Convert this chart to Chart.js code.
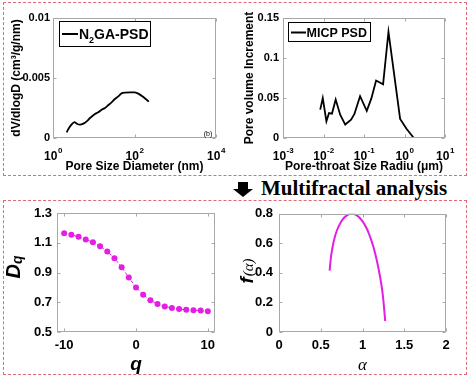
<!DOCTYPE html>
<html><head><meta charset="utf-8">
<script src="https://cdn.jsdelivr.net/npm/chart.js@4.4.1/dist/chart.umd.min.js"></script>
<style>
html,body{margin:0;padding:0;background:#fff;}
#wrap{position:relative;width:474px;height:381px;overflow:hidden;background:#fff;}
canvas{position:absolute;}
.box{position:absolute;border:1px dashed #e06a78;box-sizing:border-box;}
#band{position:absolute;left:261px;top:177px;font:bold 21px 'Liberation Serif','Times New Roman',serif;line-height:22px;white-space:nowrap;color:#000;}
</style></head>
<body><div id="wrap">
<div class="box" style="left:3px;top:2px;width:464px;height:174px"></div>
<div class="box" style="left:3px;top:200px;width:464px;height:175px"></div>
<svg style="position:absolute;left:233px;top:182px" width="21" height="16"><polygon points="5,0 15,0 15,7 20,7 10,15 0,7 5,7" fill="#000"/></svg>
<div id="band">Multifractal analysis</div>
<canvas id="c1" width="237" height="170" style="left:0;top:5px"></canvas>
<canvas id="c2" width="237" height="170" style="left:237px;top:5px"></canvas>
<canvas id="c3" width="237" height="181" style="left:0;top:200px"></canvas>
<canvas id="c4" width="237" height="181" style="left:237px;top:200px"></canvas>
</div>
<script>
// ---------------- data ----------------
const psdDiameter = [2.16, 2.38, 2.9, 3.34, 3.95, 4.6, 5.55, 6.7, 8.1, 10.7, 12.9, 15.6, 18.9, 22.8, 27.5, 33, 40, 48, 58.5, 77.6, 102, 124, 165, 225];
const psdDvdlogd = [0.00047, 0.00075, 0.00115, 0.00133, 0.00117, 0.00111, 0.0012, 0.00139, 0.00167, 0.002, 0.00214, 0.00236, 0.0025, 0.00275, 0.00297, 0.00325, 0.00347, 0.00372, 0.00378, 0.0038, 0.0038, 0.0037, 0.00342, 0.00303];
const psdXTicks = [1, 100, 10000];
const psdXTickBase = ['10', '10', '10'];
const psdXTickExp = ['0', '2', '4'];
const psdYTicks = [0, 0.005, 0.01];
const psdYTickLabels = ['0', '0.005', '0.01'];

const micpRadius = [0.0083, 0.0096, 0.0118, 0.0137, 0.0162, 0.020, 0.0258, 0.0344, 0.048, 0.058, 0.080, 0.117, 0.152, 0.199, 0.296, 0.402, 0.78, 1.12, 1.70, 2.39];
const micpIncrement = [0.0355, 0.0500, 0.0209, 0.0312, 0.0305, 0.0480, 0.0292, 0.0168, 0.0230, 0.0300, 0.0522, 0.0340, 0.0495, 0.0718, 0.0670, 0.1325, 0.0238, 0.0115, 0, 0];
const micpXTicks = [0.001, 0.01, 0.1, 1, 10];
const micpXTickBase = ['10', '10', '10', '10', '10'];
const micpXTickExp = ['-3', '-2', '-1', '0', '1'];
const micpYTicks = [0, 0.05, 0.1, 0.15];
const micpYTickLabels = ['0', '0.05', '0.1', '0.15'];

const qValues = [-10, -9, -8, -7, -6, -5, -4, -3, -2, -1, 0, 1, 2, 3, 4, 5, 6, 7, 8, 9, 10];
const dqValues = [1.164, 1.153, 1.140, 1.122, 1.103, 1.077, 1.042, 0.996, 0.936, 0.866, 0.800, 0.751, 0.713, 0.689, 0.672, 0.661, 0.655, 0.649, 0.647, 0.644, 0.639];
const qTicks = [-10, 0, 10];
const qTickLabels = ['-10', '0', '10'];
const dqTicks = [0.5, 0.7, 0.9, 1.1, 1.3];
const dqTickLabels = ['0.5', '0.7', '0.9', '1.1', '1.3'];

const alphaValues = [0.606, 0.625, 0.653, 0.693, 0.753, 0.813, 0.870, 0.932, 0.992, 1.052, 1.092, 1.131, 1.171, 1.211, 1.239, 1.259, 1.272];
const fAlphaValues = [0.415, 0.518, 0.608, 0.687, 0.755, 0.789, 0.800, 0.789, 0.755, 0.699, 0.642, 0.575, 0.485, 0.372, 0.270, 0.158, 0.074];
const alphaTicks = [0, 0.5, 1, 1.5, 2];
const alphaTickLabels = ['0', '0.5', '1', '1.5', '2'];
const fTicks = [0, 0.2, 0.4, 0.6, 0.8];
const fTickLabels = ['0', '0.2', '0.4', '0.6', '0.8'];

// ---------------- helpers ----------------
const SANS = "'Liberation Sans', Arial, Helvetica, sans-serif";
const SERIF = "'Liberation Serif', 'Times New Roman', serif";
const MAGENTA = '#e21fe2';
Chart.defaults.font.family = SANS;
Chart.defaults.font.weight = 'bold';
Chart.defaults.color = '#000';
Chart.defaults.animation = false;

const fixedW = w => s => { s.width = w; };
const fixedH = h => s => { s.height = h; };
const setTicks = vals => s => { s.ticks = vals.map(v => ({ value: v })); };
const pts = (xs, ys) => xs.map((x, i) => ({ x: x, y: ys[i] }));

const framePlugin = {
  id: 'frame',
  afterDatasetsDraw(chart) {
    const { ctx, chartArea: a, scales } = chart;
    const l = Math.round(a.left) + 0.5, t = Math.round(a.top) + 0.5;
    const r = Math.round(a.right) - 0.5, b = Math.round(a.bottom) - 0.5;
    ctx.save();
    ctx.strokeStyle = '#a8a8a8';
    ctx.lineWidth = 1;
    ctx.strokeRect(l, t, r - l, b - t);
    const L = 3;
    ctx.beginPath();
    scales.x.ticks.forEach(tk => {
      const p = Math.round(scales.x.getPixelForValue(tk.value)) + 0.5;
      ctx.moveTo(p, b); ctx.lineTo(p, b - L);
      ctx.moveTo(p, t); ctx.lineTo(p, t + L);
    });
    scales.y.ticks.forEach(tk => {
      const p = Math.round(scales.y.getPixelForValue(tk.value)) + 0.5;
      ctx.moveTo(l, p); ctx.lineTo(l + L, p);
      ctx.moveTo(r, p); ctx.lineTo(r - L, p);
    });
    ctx.stroke();
    ctx.restore();
  }
};

// power-of-ten tick labels ("10" with a raised exponent) placed through the x scale
const powerTicks = (bases, exps) => ({
  id: 'powerTicks',
  afterDraw(chart) {
    const { ctx, chartArea: a } = chart;
    const xs = chart.scales.x;
    ctx.save();
    ctx.fillStyle = '#000'; ctx.textBaseline = 'alphabetic'; ctx.textAlign = 'left';
    xs.ticks.forEach((tk, i) => {
      const p = xs.getPixelForValue(tk.value);
      ctx.font = 'bold 12px ' + SANS; const wb = ctx.measureText(bases[i]).width;
      ctx.font = 'bold 8px ' + SANS; const we = ctx.measureText(exps[i]).width;
      const x0 = p - (wb + we) / 2;
      ctx.font = 'bold 12px ' + SANS; ctx.fillText(bases[i], x0, a.bottom + 22);
      ctx.font = 'bold 8px ' + SANS; ctx.fillText(exps[i], x0 + wb + 0.5, a.bottom + 15);
    });
    ctx.restore();
  }
});

function axisOpts(o) {
  return {
    type: o.type || 'linear',
    min: o.min, max: o.max,
    afterBuildTicks: setTicks(o.ticks),
    afterFit: o.w !== undefined ? fixedW(o.w) : fixedH(o.h),
    grid: { display: false, drawTicks: false },
    border: { display: false },
    ticks: {
      display: o.labels !== null,
      padding: o.pad, autoSkip: false, maxRotation: 0,
      font: { size: o.fs, weight: 'bold' },
      callback: (v, i) => (o.labels ? o.labels[i] : '')
    },
    title: o.title ? Object.assign({ display: true }, o.title) : { display: false }
  };
}

function baseOptions(pad, x, y) {
  return {
    responsive: false, animation: false, devicePixelRatio: 1,
    layout: { padding: pad },
    plugins: { legend: { display: false }, tooltip: { enabled: false } },
    scales: { x: x, y: y }
  };
}

// ---------------- chart 1: N2GA-PSD ----------------
new Chart(document.getElementById('c1'), {
  type: 'line',
  data: { datasets: [{ label: 'N\u2082GA-PSD', data: pts(psdDiameter, psdDvdlogd), borderColor: '#000', borderWidth: 1.8, pointRadius: 0, tension: 0.2 }] },
  options: baseOptions({ left: 0, right: 21, top: 13, bottom: 0 },
    axisOpts({ type: 'logarithmic', min: 1, max: 10000, ticks: psdXTicks, labels: null, h: 37, pad: 9, fs: 12,
      title: { text: 'Pore Size Diameter (nm)', font: { size: 12, weight: 'bold' }, padding: { top: 0, bottom: 1 } } }),
    axisOpts({ min: 0, max: 0.01, ticks: psdYTicks, labels: psdYTickLabels, w: 53, pad: 3, fs: 11,
      title: { text: 'dV/dlogD (cm\u00B3/g/nm)', font: { size: 12, weight: 'bold' }, padding: { top: 9, bottom: 0 } } })),
  plugins: [framePlugin, powerTicks(psdXTickBase, psdXTickExp), {
    id: 'legend1',
    afterDraw(chart) {
      const ctx = chart.ctx;
      ctx.save();
      ctx.fillStyle = '#fff'; ctx.fillRect(59.5, 16.5, 91, 25);
      ctx.strokeStyle = '#000'; ctx.lineWidth = 1; ctx.strokeRect(59.5, 16.5, 91, 25);
      ctx.lineWidth = 2; ctx.beginPath(); ctx.moveTo(62, 29); ctx.lineTo(78, 29); ctx.stroke();
      ctx.fillStyle = '#000'; ctx.textBaseline = 'alphabetic'; ctx.textAlign = 'left';
      let x = 79;
      ctx.font = 'bold 14px ' + SANS; ctx.fillText('N', x, 34); x += ctx.measureText('N').width;
      ctx.font = 'bold 9px ' + SANS; ctx.fillText('2', x, 38); x += ctx.measureText('2').width;
      ctx.font = 'bold 14px ' + SANS; ctx.fillText('GA-PSD', x, 34);
      ctx.font = 'normal 7px ' + SANS; ctx.textAlign = 'center'; ctx.textBaseline = 'middle';
      ctx.fillText('(b)', 208, 129);
      ctx.restore();
    }
  }]
});

// ---------------- chart 2: MICP PSD ----------------
new Chart(document.getElementById('c2'), {
  type: 'line',
  data: { datasets: [{ label: 'MICP PSD', data: pts(micpRadius, micpIncrement), borderColor: '#000', borderWidth: 1.8, pointRadius: 0, tension: 0 }] },
  options: baseOptions({ left: 0, right: 29, top: 13, bottom: 0 },
    axisOpts({ type: 'logarithmic', min: 0.001, max: 10, ticks: micpXTicks, labels: null, h: 37, pad: 9, fs: 12,
      title: { text: 'Pore-throat Size Radiu (\u03BCm)', font: { size: 12, weight: 'bold' }, padding: { top: 0, bottom: 1 } } }),
    axisOpts({ min: 0, max: 0.15, ticks: micpYTicks, labels: micpYTickLabels, w: 46, pad: 4, fs: 11,
      title: { text: 'Pore volume Increment', font: { size: 12, weight: 'bold' }, padding: { top: 5, bottom: 0 } } })),
  plugins: [framePlugin, powerTicks(micpXTickBase, micpXTickExp), {
    id: 'legend2',
    afterDraw(chart) {
      const ctx = chart.ctx;
      ctx.save();
      ctx.fillStyle = '#fff'; ctx.fillRect(51.5, 17.5, 82, 19);
      ctx.strokeStyle = '#000'; ctx.lineWidth = 1; ctx.strokeRect(51.5, 17.5, 82, 19);
      ctx.lineWidth = 2; ctx.beginPath(); ctx.moveTo(54, 27.5); ctx.lineTo(69, 27.5); ctx.stroke();
      ctx.fillStyle = '#000'; ctx.textBaseline = 'alphabetic'; ctx.textAlign = 'left';
      ctx.font = 'bold 12.5px ' + SANS; ctx.fillText(chart.data.datasets[0].label, 69.5, 32);
      ctx.restore();
    }
  }]
});

// ---------------- chart 3: Dq vs q ----------------
new Chart(document.getElementById('c3'), {
  type: 'line',
  data: { datasets: [{ label: 'Dq', data: pts(qValues, dqValues), borderColor: MAGENTA, borderWidth: 1, borderDash: [3, 2],
    pointRadius: 3, pointBackgroundColor: MAGENTA, pointBorderWidth: 0, tension: 0 }] },
  options: baseOptions({ left: 0, right: 22, top: 13, bottom: 0 },
    axisOpts({ min: -11, max: 11, ticks: qTicks, labels: qTickLabels, h: 49, pad: 6, fs: 13,
      title: { text: 'q', font: { size: 19, weight: 'bold', style: 'italic' }, padding: { top: 0, bottom: 5 } } }),
    axisOpts({ min: 0.5, max: 1.3, ticks: dqTicks, labels: dqTickLabels, w: 57, pad: 5, fs: 13 })),
  plugins: [framePlugin, {
    id: 'dqTitle',
    afterDraw(chart) {
      const ctx = chart.ctx;
      ctx.save();
      ctx.translate(13, 67);
      ctx.rotate(-Math.PI / 2);
      ctx.fillStyle = '#000'; ctx.textBaseline = 'alphabetic'; ctx.textAlign = 'left';
      ctx.font = 'italic bold 20px ' + SANS;
      const wD = ctx.measureText('D').width;
      ctx.font = 'italic bold 14px ' + SANS;
      const wq = ctx.measureText('q').width;
      let x = -(wD + wq) / 2;
      ctx.font = 'italic bold 20px ' + SANS; ctx.fillText('D', x, 7);
      ctx.font = 'italic bold 14px ' + SANS; ctx.fillText('q', x + wD, 9);
      ctx.restore();
    }
  }]
});

// ---------------- chart 4: f(alpha) ----------------
new Chart(document.getElementById('c4'), {
  type: 'line',
  data: { datasets: [{ label: 'f(\u03B1)', data: pts(alphaValues, fAlphaValues), borderColor: MAGENTA, borderWidth: 2, pointRadius: 0, tension: 0.35 }] },
  options: baseOptions({ left: 0, right: 28, top: 13, bottom: 0 },
    axisOpts({ min: 0, max: 2, ticks: alphaTicks, labels: alphaTickLabels, h: 49, pad: 6, fs: 13,
      title: { text: '\u03B1', font: { size: 17, weight: 'normal', style: 'italic', family: SERIF }, padding: { top: 0, bottom: 5 } } }),
    axisOpts({ min: 0, max: 0.8, ticks: fTicks, labels: fTickLabels, w: 42, pad: 6, fs: 13 })),
  plugins: [framePlugin, {
    id: 'fTitle',
    afterDraw(chart) {
      const ctx = chart.ctx;
      ctx.save();
      ctx.translate(10, 71);
      ctx.rotate(-Math.PI / 2);
      ctx.fillStyle = '#000'; ctx.textBaseline = 'alphabetic'; ctx.textAlign = 'left';
      ctx.font = 'italic bold 19px ' + SANS;
      const wf = ctx.measureText('f').width;
      ctx.font = 'italic 15px ' + SERIF;
      const wa = ctx.measureText('(\u03B1)').width;
      let x = -(wf + wa + 1) / 2;
      ctx.font = 'italic bold 19px ' + SANS; ctx.fillText('f', x, 6);
      ctx.font = 'italic 15px ' + SERIF; ctx.fillText('(\u03B1)', x + wf + 1, 6);
      ctx.restore();
    }
  }]
});
</script>
</body></html>
